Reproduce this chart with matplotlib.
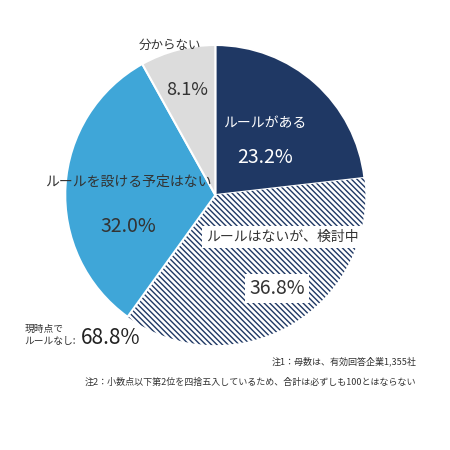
import matplotlib.pyplot as plt

plt.rcParams['font.family'] = ['Noto Sans CJK JP', 'DejaVu Sans']

labels = ["ルールがある", "ルールはないが、検討中", "ルールを設ける予定はない", "分からない"]
values = [23.2, 36.8, 32.0, 8.1]
colors = ["#1f3864", "white", "#3fa6d8", "#dcdcdc"]
navy = "#1f3864"

plt.rcParams['hatch.linewidth'] = 1.0
fig = plt.figure(figsize=(4.5, 4.5), dpi=100)
ax = fig.add_axes([0.145, 0.233, 0.667, 0.667])
wedges, _ = ax.pie(values, colors=colors, startangle=90, counterclock=False,
                   radius=1.0, wedgeprops=dict(edgecolor="white", linewidth=1.5))
wedges[1].set_hatch("\\\\\\\\\\\\")
wedges[1].set_edgecolor(navy)
wedges[1].set_linewidth(0)
ax.set_xlim(-1, 1)
ax.set_ylim(-1, 1)
ax.set_aspect("equal")

ax.text(0.33, 0.48, labels[0], color="white", fontsize=10, ha="center", va="center")
ax.text(0.33, 0.25, f"{values[0]}%", color="white", fontsize=14, ha="center", va="center")
box = dict(facecolor="white", edgecolor="none", pad=3)
ax.text(0.45, -0.28, labels[1], color="#333333", fontsize=10, ha="center", va="center", bbox=box)
ax.text(0.41, -0.62, f"{values[1]}%", color="#333333", fontsize=14, ha="center", va="center", bbox=box)
ax.text(-0.58, 0.09, labels[2], color="#333333", fontsize=10, ha="center", va="center")
ax.text(-0.58, -0.21, f"{values[2]}%", color="#333333", fontsize=14, ha="center", va="center")
ax.text(-0.3, 1.0, labels[3], color="#333333", fontsize=9, ha="center", va="center")
ax.text(-0.19, 0.7, f"{values[3]}%", color="#333333", fontsize=13, ha="center", va="center")

fig.text(0.055, 0.255, "現時点で\nルールなし:", fontsize=7, color="#333333", va="center", linespacing=1.3)
fig.text(0.18, 0.248, "68.8%", fontsize=15, color="#222222", va="center")
fig.text(0.925, 0.19, "注1：母数は、有効回答企業1,355社", fontsize=6.5, color="#333333", ha="right")
fig.text(0.925, 0.145, "注2：小数点以下第2位を四捨五入しているため、合計は必ずしも100とはならない",
         fontsize=6.5, color="#333333", ha="right")

fig.savefig("out.png", dpi=100, facecolor="white")
